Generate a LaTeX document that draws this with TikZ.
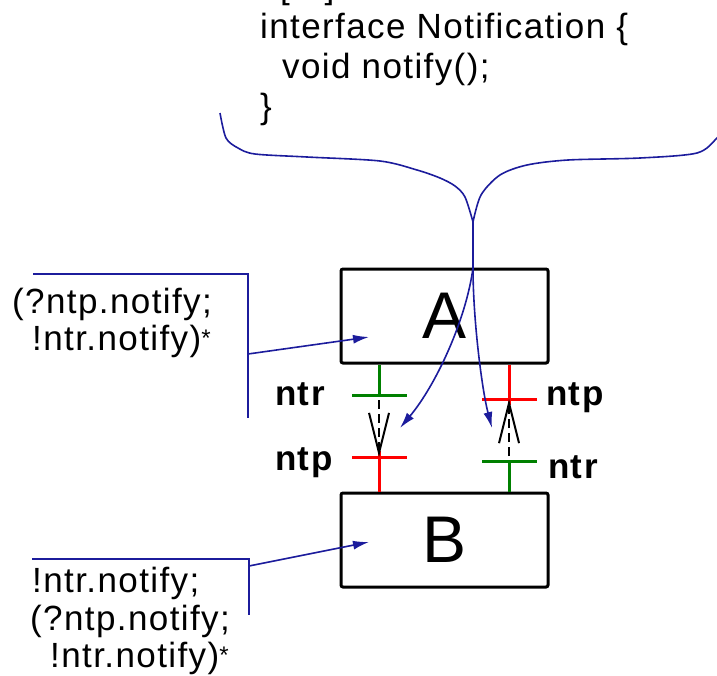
\documentclass[tikz,border=0pt]{standalone}
\usepackage{fontspec}
\setmainfont{Liberation Sans}[LetterSpace=4]
\usepackage{xcolor}
\definecolor{cLine}{HTML}{1C1C9C}
\definecolor{cNtr}{HTML}{008000}
\definecolor{cNtp}{HTML}{FF0000}
\usetikzlibrary{positioning,arrows.meta}
\newcommand{\kstar}{\raisebox{4pt}{\fontsize{24}{24}\selectfont *}}
\tikzset{
  comp-box/.style={draw=black,line width=3pt,rounded corners=2pt,inner sep=0pt,
    minimum width=207pt,minimum height=94pt,font=\fontsize{66}{70}\selectfont},
  code-text/.style={anchor=base west,inner sep=0pt,font=\fontsize{35}{40}\selectfont},
  proto-text/.style={anchor=base west,inner sep=0pt,font=\fontsize{35}{40}\selectfont},
  port-text/.style={anchor=base west,inner sep=0pt,font=\bfseries\fontsize{35}{40}\selectfont},
  port-ntr/.style={draw=cNtr,line width=3pt},
  port-ntp/.style={draw=cNtp,line width=3pt},
  line-bind/.style={line width=1.6pt,draw=cLine},
  arrow-bind/.style={-{Latex[length=16pt,width=9pt]},line width=1.6pt,draw=cLine},
  arrow-call/.style={-{Straight Barb[length=40pt,width=20pt]},line width=2pt,
    dash pattern=on 9pt off 5pt},
}

\begin{document}
\begin{tikzpicture}[x=1pt,y=-1pt]
  \clip (0,0) rectangle (717,675);
  % interface
  \node[code-text] (c0) at (280,-2) {[...]};
  \node[code-text] (c1) at (260,38) {interface Notification \{};
  \node[code-text] (c2) at (282,78) {void notify();};
  \node[code-text] (c3) at (260,118) {\}};
  % components
  \node[comp-box] (boxA) at (444.5,316) {A\hspace{32pt}};
  \node[comp-box,below=127pt of boxA] (boxB) {B\hspace{20pt}};
  % protocols
  \node[proto-text] (pA1) at (12,313) {(?ntp.notify;};
  \node[proto-text] (pA2) at (32,350) {!ntr.notify)\kstar};
  \node[proto-text] (pB1) at (32,592) {!ntr.notify;};
  \node[proto-text] (pB2) at (30,630) {(?ntp.notify;};
  \node[proto-text] (pB3) at (50,667) {!ntr.notify)\kstar};
  % port names
  \node[port-text] (lNtrA) at (275,405) {ntr};
  \node[port-text] (lNtpB) at (275,470) {ntp};
  \node[port-text] (lNtpA) at (546,405) {ntp};
  \node[port-text] (lNtrB) at (548,478) {ntr};
  % ports
  \coordinate (ntrA) at (379,395);
  \coordinate (ntpB) at (379,457);
  \coordinate (ntpA) at (509,399);
  \coordinate (ntrB) at (509,461);
  \draw[port-ntr] (ntrA |- boxA.south) -- (ntrA);
  \draw[port-ntr] ([xshift=-27pt]ntrA) -- ([xshift=28pt]ntrA);
  \draw[port-ntp] ([yshift=6pt]ntpB) -- (ntpB |- boxB.north);
  \draw[port-ntp] ([xshift=-27pt]ntpB) -- ([xshift=28pt]ntpB);
  \draw[port-ntp] (ntpA |- boxA.south) -- ([yshift=-6pt]ntpA);
  \draw[port-ntp] ([xshift=-27pt]ntpA) -- ([xshift=28pt]ntpA);
  \draw[port-ntr] (ntrB) -- (ntrB |- boxB.north);
  \draw[port-ntr] ([xshift=-27pt]ntrB) -- ([xshift=28pt]ntrB);
  \draw[arrow-call] ([yshift=-5pt]ntrA) -- (ntpB);
  \draw[arrow-call] ([yshift=5pt]ntrB) -- (ntpA);
  % protocol brackets
  \coordinate (brA) at (248,274);
  \coordinate (brB) at (249,559);
  \coordinate (tipA) at (369,337);
  \coordinate (tipB) at (369,542);
  \draw[line-bind] (33,274) -- (brA) -- (248,418);
  \draw[arrow-bind] (248,354) -- (tipA);
  \draw[line-bind] (32,559) -- (brB) -- (249,615);
  \draw[arrow-bind] (249,566) -- (tipB);
  % interface brace
  \coordinate (fork) at (473,222);
  \coordinate (split) at (473,268);
  \coordinate (tipL) at (400,428);
  \coordinate (tipR) at (492,428);
  \draw[line-bind] plot[smooth,tension=0.5] coordinates {(220,113) (226,138)
    (238,148) (255,154) (307,157) (380,161) (417,170) (440,178) (455,186)
    (465,197) (fork)};
  \draw[line-bind] plot[smooth,tension=0.5] coordinates {(fork) (481,195)
    (500,175) (527,165) (568,160) (640,158) (697,153) (717,138)
    (725,128)};
  \draw[line-bind] (fork) -- (split);
  \draw[arrow-bind] (split) .. controls (466,320) and (436,385) .. (tipL);
  \draw[arrow-bind] (split) .. controls (473,320) and (482,390) .. (tipR);
\end{tikzpicture}
\end{document}
